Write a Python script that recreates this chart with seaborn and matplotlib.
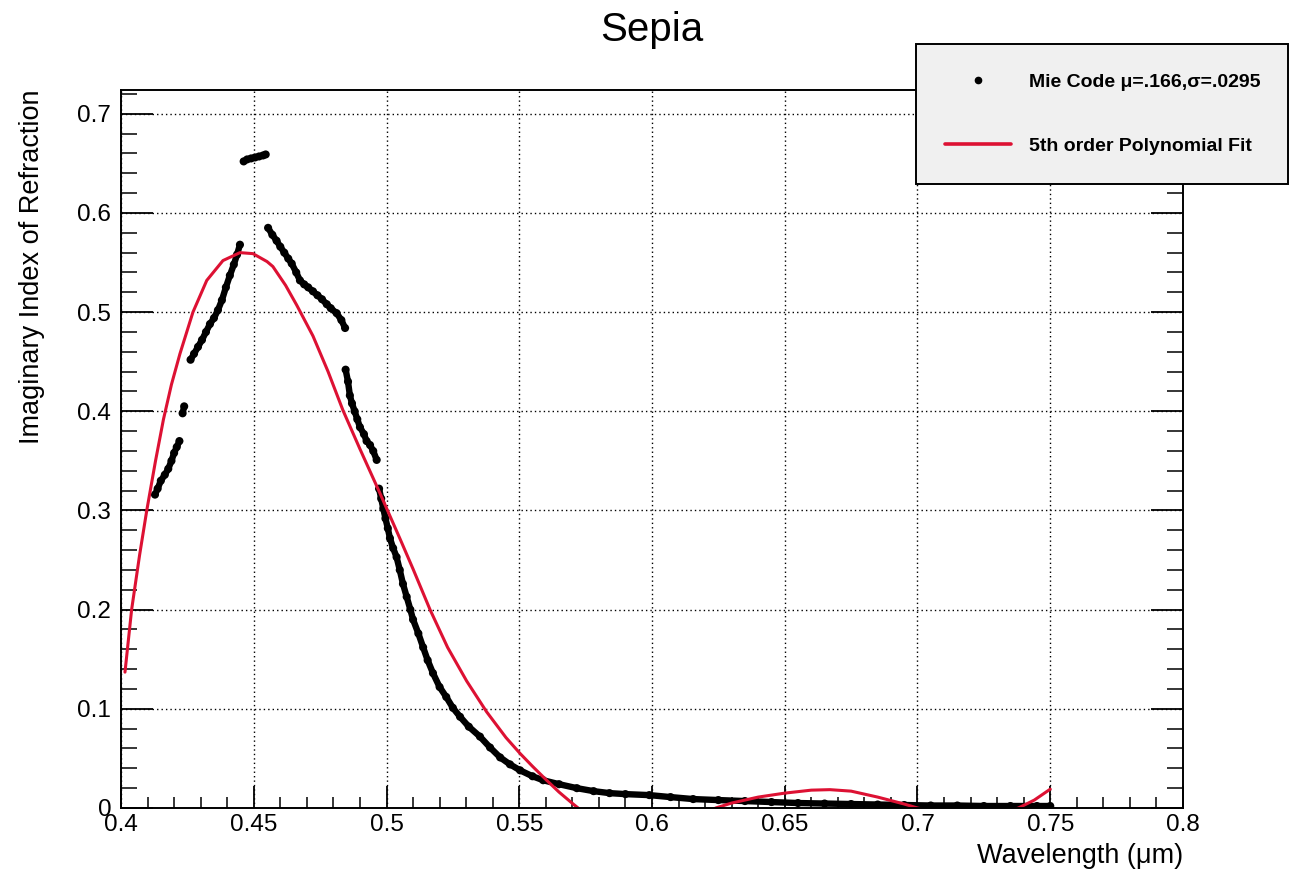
import numpy as np
import pandas as pd
import matplotlib
matplotlib.use("Agg")
import matplotlib.pyplot as plt
from matplotlib.lines import Line2D
from matplotlib.ticker import MultipleLocator
import seaborn as sns

# Mie code points, grouped in the runs the picture shows
mie_seg = (["a"] * 9 + ["b"] * 2 + ["c"] * 14 + ["d"] * 7 + ["e"] * 19 + ["f"] * 12 + ["g"] * 51)
mie_x = [0.4128, 0.4138, 0.4150, 0.4165, 0.4178, 0.4190, 0.4200, 0.4210, 0.4220,
         0.4232, 0.4238,
         0.4262, 0.4275, 0.4290, 0.4305, 0.4320, 0.4335, 0.4350, 0.4365, 0.4380, 0.4395,
         0.4410, 0.4425, 0.4437, 0.4448,
         0.4462, 0.4475, 0.4490, 0.4505, 0.4520, 0.4535, 0.4545,
         0.4554, 0.4570, 0.4586, 0.4600, 0.4615, 0.4630, 0.4643, 0.4660, 0.4674, 0.4690,
         0.4705, 0.4723, 0.4740, 0.4757, 0.4775, 0.4790, 0.4812, 0.4830, 0.4844,
         0.4846, 0.4855, 0.4862, 0.4870, 0.4880, 0.4890, 0.4900, 0.4915, 0.4925, 0.4938,
         0.4950, 0.4963,
         0.4972, 0.4980, 0.4988, 0.4996, 0.5005, 0.5013, 0.5025, 0.5038, 0.5050, 0.5062,
         0.5076, 0.5090, 0.5100, 0.5120, 0.5138, 0.5155, 0.5175, 0.5200, 0.5225, 0.5250,
         0.5277, 0.5310, 0.5352, 0.5390, 0.5428, 0.5465, 0.5503, 0.5550, 0.5590, 0.5650,
         0.5717, 0.5780, 0.5840, 0.5900, 0.5990, 0.6070, 0.6155, 0.6250, 0.6350, 0.6450,
         0.6550, 0.6650, 0.6750, 0.6850, 0.6950, 0.7050, 0.7150, 0.7250, 0.7350, 0.7450,
         0.7500]
mie_y = [0.316, 0.322, 0.330, 0.336, 0.342, 0.350, 0.358, 0.364, 0.370,
         0.398, 0.405,
         0.452, 0.458, 0.465, 0.472, 0.480, 0.488, 0.494, 0.502, 0.512, 0.525,
         0.537, 0.548, 0.558, 0.568,
         0.652, 0.654, 0.655, 0.656, 0.657, 0.658, 0.659,
         0.585, 0.578, 0.572, 0.566, 0.560, 0.554, 0.549, 0.540, 0.532, 0.528,
         0.525, 0.521, 0.517, 0.513, 0.508, 0.504, 0.499, 0.492, 0.484,
         0.442, 0.430, 0.416, 0.408, 0.400, 0.392, 0.384, 0.377, 0.370, 0.366,
         0.360, 0.351,
         0.322, 0.312, 0.302, 0.292, 0.282, 0.272, 0.262, 0.253, 0.240, 0.226,
         0.213, 0.200, 0.190, 0.176, 0.162, 0.149, 0.136, 0.122, 0.112, 0.101,
         0.092, 0.082, 0.072, 0.061, 0.051, 0.044, 0.038, 0.032, 0.028, 0.024,
         0.020, 0.017, 0.015, 0.014, 0.013, 0.011, 0.009, 0.008, 0.007, 0.006,
         0.005, 0.0045, 0.004, 0.0035, 0.003, 0.0025, 0.0025, 0.002, 0.002, 0.002,
         0.002]

# 5th order polynomial fit (below zero is clipped by the axes)
fit_x = [0.4015, 0.404, 0.407, 0.4097, 0.413, 0.416, 0.419, 0.4222, 0.4271, 0.4323,
         0.4384, 0.4448, 0.4497, 0.455, 0.4572, 0.462, 0.4662, 0.4723, 0.478, 0.4836,
         0.490, 0.4976, 0.505, 0.510, 0.5164, 0.523, 0.5302, 0.5377, 0.545, 0.5503,
         0.555, 0.5603, 0.565, 0.5703, 0.575, 0.58, 0.59, 0.60, 0.61, 0.617,
         0.624, 0.63, 0.64, 0.65, 0.66, 0.667, 0.675, 0.685, 0.695, 0.70,
         0.71, 0.72, 0.73, 0.738, 0.744, 0.75]
fit_y = [0.137, 0.200, 0.255, 0.300, 0.350, 0.392, 0.427, 0.458, 0.500, 0.532,
         0.552, 0.560, 0.559, 0.551, 0.546, 0.527, 0.507, 0.476, 0.440, 0.401,
         0.362, 0.317, 0.272, 0.241, 0.200, 0.162, 0.128, 0.097, 0.071, 0.055,
         0.042, 0.028, 0.016, 0.004, -0.006, -0.012, -0.020, -0.022, -0.018, -0.010,
         0.000, 0.005, 0.011, 0.015, 0.018, 0.0185, 0.017, 0.011, 0.004, 0.000,
         -0.006, -0.009, -0.007, 0.000, 0.008, 0.019]

x_ticks = [0.4, 0.45, 0.5, 0.55, 0.6, 0.65, 0.7, 0.75, 0.8]
x_labels = ["0.4", "0.45", "0.5", "0.55", "0.6", "0.65", "0.7", "0.75", "0.8"]
y_ticks = [0, 0.1, 0.2, 0.3, 0.4, 0.5, 0.6, 0.7]
y_labels = ["0", "0.1", "0.2", "0.3", "0.4", "0.5", "0.6", "0.7"]

mie = pd.DataFrame({"seg": mie_seg, "x": mie_x, "y": mie_y})
fit = pd.DataFrame({"x": fit_x, "y": fit_y})

sns.set_style("ticks")
plt.rcParams["font.family"] = ["Liberation Sans", "DejaVu Sans"]
plt.rcParams["text.color"] = "black"
plt.rcParams["xtick.color"] = "black"
plt.rcParams["ytick.color"] = "black"

W, H = 1294, 877
fig = plt.figure(figsize=(W / 100, H / 100), dpi=100)
ax = fig.add_axes([121 / W, 1 - 808 / H, (1183 - 121) / W, (808 - 90) / H])

sns.lineplot(data=mie, x="x", y="y", units="seg", estimator=None, sort=False,
             color="black", linewidth=4.6, legend=False, ax=ax)
sns.scatterplot(data=mie, x="x", y="y", color="black", s=34, marker="o",
                edgecolor="none", legend=False, ax=ax)
sns.lineplot(data=fit, x="x", y="y", color="#dd1133", linewidth=2.2,
             sort=False, legend=False, ax=ax)

ax.set_xlim(0.4, 0.8)
ax.set_ylim(0, 0.724)
ax.set_xticks(x_ticks)
ax.set_xticklabels(x_labels)
ax.set_yticks(y_ticks)
ax.set_yticklabels(y_labels)
ax.xaxis.set_minor_locator(MultipleLocator(0.01))
ax.yaxis.set_minor_locator(MultipleLocator(0.02))
ax.set_xlabel("")
ax.set_ylabel("")

ax.grid(True, which="major", color="black", linestyle=(0, (1, 2.2)), linewidth=1.0)
for s in ax.spines.values():
    s.set_visible(True)
    s.set_linewidth(1.4)
    s.set_color("black")

ax.tick_params(axis="y", which="major", direction="in", length=23, width=1.3,
               labelsize=17.5, pad=7, right=True, left=True, labelcolor="black")
ax.tick_params(axis="y", which="minor", direction="in", length=11.5, width=1.1,
               right=True, left=True)
ax.tick_params(axis="x", which="major", direction="in", length=15.5, width=1.3,
               labelsize=17.5, pad=4, top=False, bottom=True, labelcolor="black")
ax.tick_params(axis="x", which="minor", direction="in", length=7.7, width=1.1,
               top=False, bottom=True)

fig.text(652 / W, 1 - 30 / H, "Sepia", ha="center", va="center", fontsize=29,
         color="black")
fig.text(32 / W, 1 - 90 / H, "Imaginary Index of Refraction", rotation=90,
         ha="center", va="top", fontsize=19.5, color="black")
fig.text(1183 / W, 1 - 856 / H, "Wavelength (\u03bcm)", ha="right", va="center",
         fontsize=19.5, color="black")

handles = [
    Line2D([], [], linestyle="none", marker="o", markersize=4.5, color="black"),
    Line2D([], [], color="#dd1133", linewidth=2.6),
]
leg = fig.legend(handles, ["Mie Code \u03bc=.166,\u03c3=.0295", "5th order Polynomial Fit"],
                 loc="upper left",
                 bbox_to_anchor=(916 / W, 1 - 180 / H, (1288 - 916) / W, 136 / H),
                 mode="expand", fancybox=False, frameon=True, edgecolor="black",
                 facecolor="#f0f0f0", framealpha=1, borderpad=1.5, labelspacing=2.4,
                 handlelength=3.4, handletextpad=0.9, borderaxespad=0,
                 prop={"weight": "bold", "size": 14})
leg.get_frame().set_linewidth(1.4)
for t in leg.get_texts():
    t.set_color("black")

fig.savefig("out.png", dpi=100)
